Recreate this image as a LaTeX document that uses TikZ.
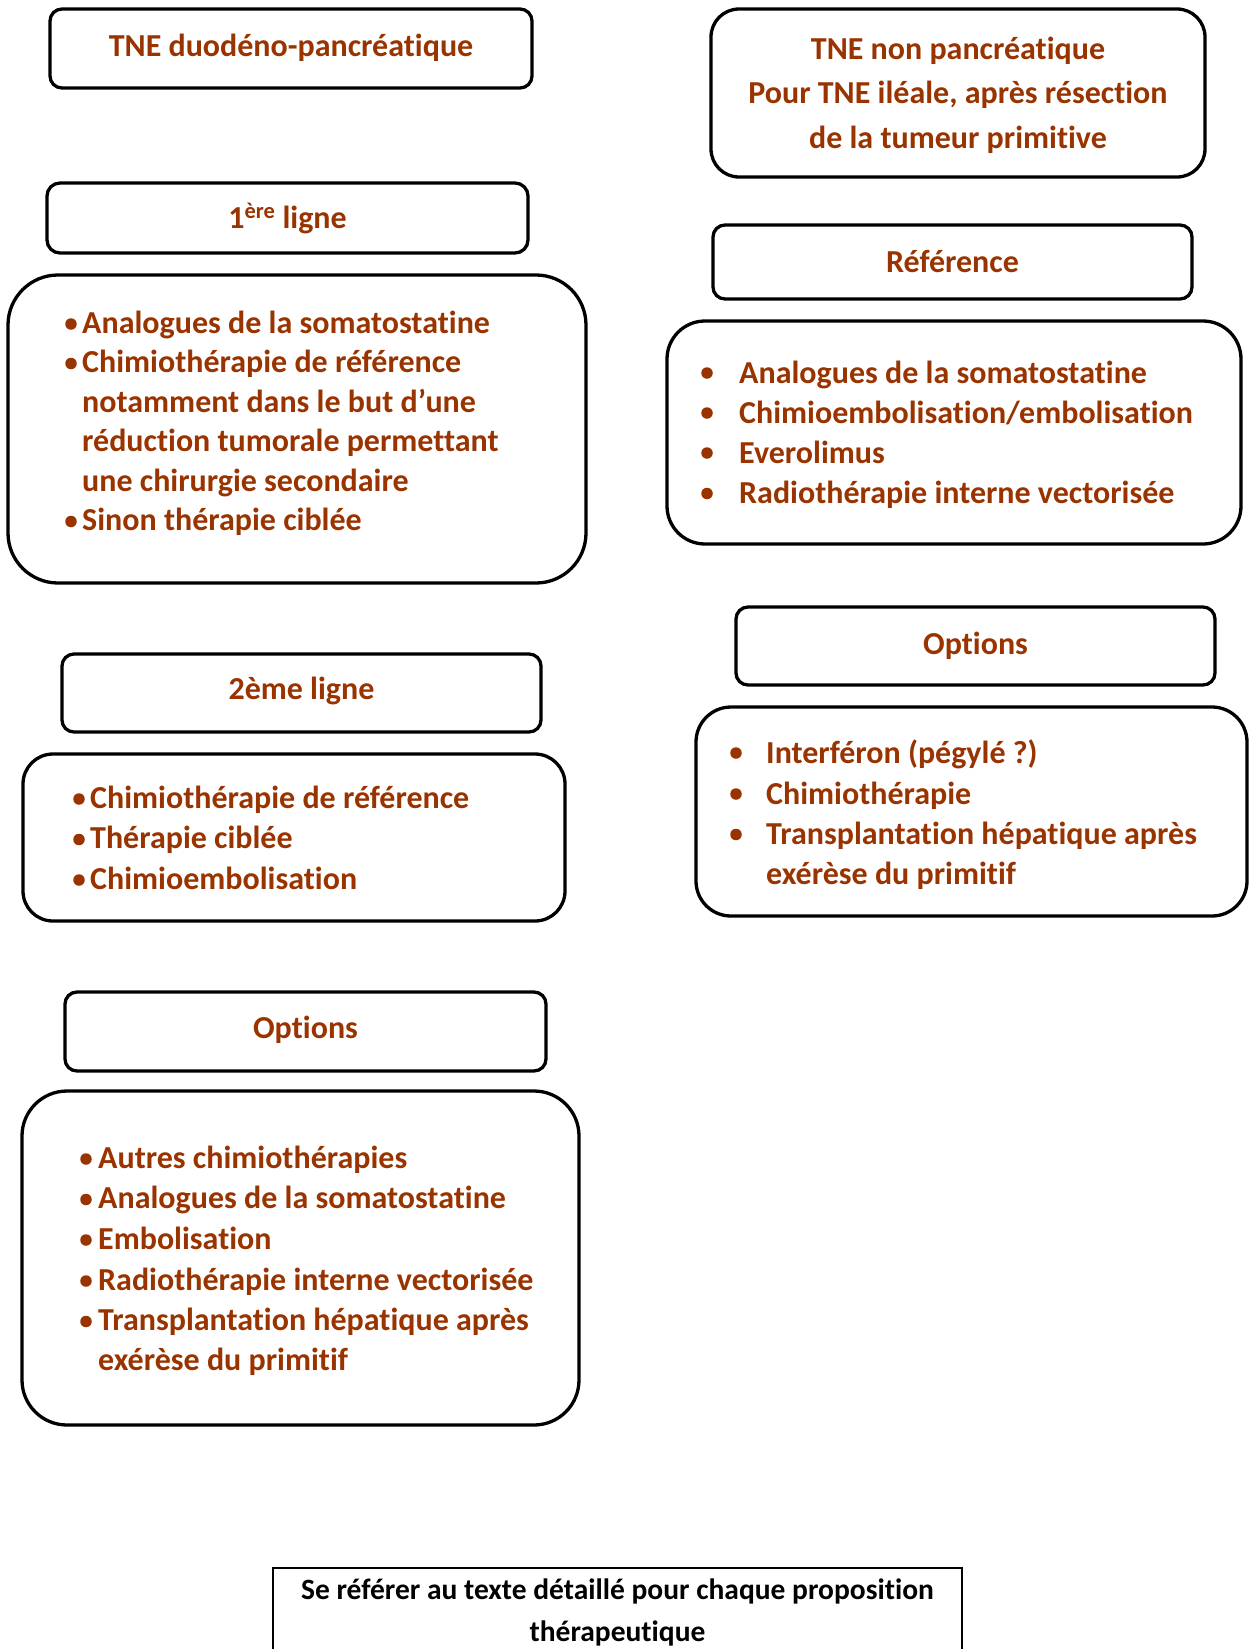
\documentclass[tikz,border=0pt]{standalone}
\usepackage{fontspec}
\setmainfont{Carlito}[Ligatures={NoCommon}]
\definecolor{brn}{RGB}{153,51,0}
\newcommand\mkbox[7][box]{\node[#1, rounded corners=#7pt, minimum width={#5-#3}, minimum height={#6-#4}] (#2) at ({(#3+#5)/2},{(#4+#6)/2}) {};}
\begin{document}
\begin{tikzpicture}[x=1pt,y=-1pt,
  box/.style={draw=black, line width=3.3pt, inner sep=0pt, rectangle, fill=none},
  thinbox/.style={draw=black, line width=1.5pt, inner sep=0pt, rectangle, rounded corners=0pt},
  txt/.style={inner sep=0pt, anchor=base west, text=brn, font=\bfseries\fontsize{32}{38}\selectfont},
  ctr/.style={txt, anchor=base},
  note/.style={inner sep=0pt, anchor=base, text=black, font=\bfseries\fontsize{29.5}{36}\selectfont},
  bul/.style={circle, fill=brn, inner sep=0pt, minimum size=11.5pt},
]
\useasboundingbox (0,0) rectangle (1249,1649);
\clip (0,0) rectangle (1249,1649);

% left column
\mkbox{B1}{50}{9}{532}{88}{12}
\node[ctr] (t1) at (291,56) {TNE duodéno-pancréatique};

\mkbox{B2}{47}{183}{528}{253}{13}
\node[ctr] (t2) at (287.5,228) {1\textsuperscript{ère} ligne};

\mkbox{B3}{8}{275}{586}{583}{50}
\node[bul] (b3a) at (71,324) {};
\node[txt] (t3a) at (82,333) {Analogues de la somatostatine};
\node[bul] (b3b) at (71,363.5) {};
\node[txt] (t3b) at (82,372.5) {Chimiothérapie de référence};
\node[txt] (t3c) at (82,412) {notamment dans le but d’une};
\node[txt] (t3d) at (82,451.5) {réduction tumorale permettant};
\node[txt] (t3e) at (82,491) {une chirurgie secondaire};
\node[bul] (b3f) at (71,521.5) {};
\node[txt] (t3f) at (82,530.5) {Sinon thérapie ciblée};

\mkbox{B4}{62}{654}{541}{732}{12}
\node[ctr] (t4) at (301.5,699) {2ème ligne};

\mkbox{B5}{23}{754}{565}{921}{30}
\node[bul] (b5a) at (79,799) {};
\node[txt] (t5a) at (90,808) {Chimiothérapie de référence};
\node[bul] (b5b) at (79,839.5) {};
\node[txt] (t5b) at (90,848.5) {Thérapie ciblée};
\node[bul] (b5c) at (79,880) {};
\node[txt] (t5c) at (90,889) {Chimioembolisation};

\mkbox{B6}{65}{992}{546}{1071}{12}
\node[ctr] (t6) at (305.5,1038) {Options};

\mkbox{B7}{22}{1091}{579}{1425}{45}
\node[bul] (b7a) at (86,1159) {};
\node[txt] (t7a) at (98,1168) {Autres chimiothérapies};
\node[bul] (b7b) at (86,1199.5) {};
\node[txt] (t7b) at (98,1208.5) {Analogues de la somatostatine};
\node[bul] (b7c) at (86,1240) {};
\node[txt] (t7c) at (98,1249) {Embolisation};
\node[bul] (b7d) at (86,1281) {};
\node[txt] (t7d) at (98,1290) {Radiothérapie interne vectorisée};
\node[bul] (b7e) at (86,1321.5) {};
\node[txt] (t7e) at (98,1330.5) {Transplantation hépatique après};
\node[txt] (t7f) at (98,1370) {exérèse du primitif};

% right column
\mkbox{R1}{711}{9}{1205}{177}{28}
\node[ctr] (r1a) at (958,59) {TNE non pancréatique};
\node[ctr] (r1b) at (958,103.5) {Pour TNE iléale, après résection};
\node[ctr] (r1c) at (958,148) {de la tumeur primitive};

\mkbox{R2}{713}{225}{1192}{299}{12}
\node[ctr] (r2) at (952.5,272) {Référence};

\mkbox{R3}{667}{321}{1241}{544}{38}
\node[bul] (b8a) at (707,373) {};
\node[txt] (r3a) at (739,383) {Analogues de la somatostatine};
\node[bul] (b8b) at (707,413) {};
\node[txt] (r3b) at (739,423) {Chimioembolisation/embolisation};
\node[bul] (b8c) at (707,453) {};
\node[txt] (r3c) at (739,463) {Everolimus};
\node[bul] (b8d) at (707,493.5) {};
\node[txt] (r3d) at (739,503.5) {Radiothérapie interne vectorisée};

\mkbox{R4}{736}{607}{1215}{685}{12}
\node[ctr] (r4) at (975.5,654) {Options};

\mkbox{R5}{696}{707}{1247}{916}{35}
\node[bul] (b9a) at (736,753) {};
\node[txt] (r5a) at (766,763) {Interféron (pégylé ?)};
\node[bul] (b9b) at (736,794) {};
\node[txt] (r5b) at (766,804) {Chimiothérapie};
\node[bul] (b9c) at (736,834.5) {};
\node[txt] (r5c) at (766,844.5) {Transplantation hépatique après};
\node[txt] (r5d) at (766,884) {exérèse du primitif};

% bottom note
\mkbox[thinbox]{N}{273}{1568}{962}{1720}{0}
\node[note] (n1) at (617.5,1599) {Se référer au texte détaillé pour chaque proposition};
\node[note] (n2) at (617.5,1641) {thérapeutique};
\end{tikzpicture}
\end{document}
